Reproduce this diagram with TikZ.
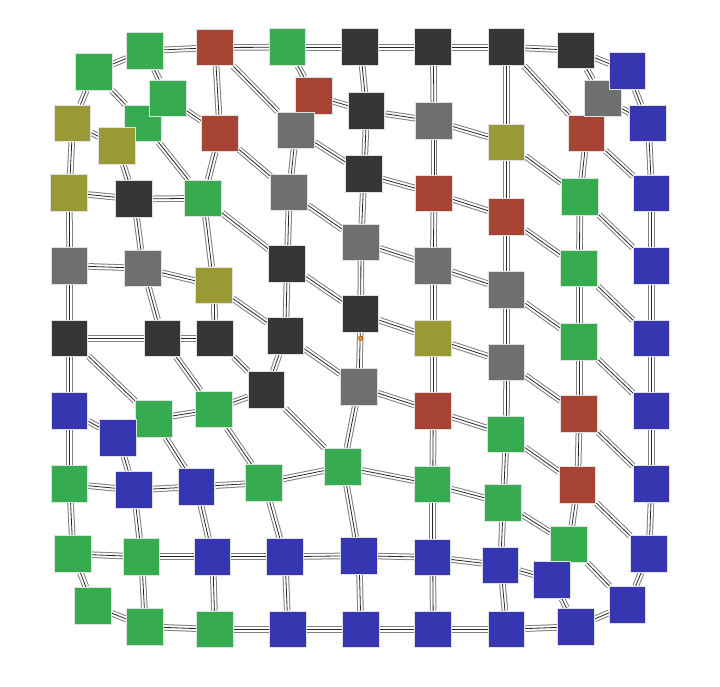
\documentclass[tikz,border=0pt]{standalone}
\usetikzlibrary{backgrounds}

\definecolor{cgreen}{RGB}{55,171,80}
\definecolor{cred}{RGB}{168,68,54}
\definecolor{cdark}{RGB}{53,55,54}
\definecolor{cgray}{RGB}{110,112,110}
\definecolor{colive}{RGB}{153,154,54}
\definecolor{cblue}{RGB}{54,54,176}

\tikzset{
  box/.style={draw=black!12, line width=0.5pt, minimum size=18.3pt, inner sep=0pt},
  grn/.style={box, fill=cgreen},
  red/.style={box, fill=cred},
  drk/.style={box, fill=cdark},
  gry/.style={box, fill=cgray},
  olv/.style={box, fill=colive},
  blu/.style={box, fill=cblue},
  link/.style={draw=black!50, line width=0.5pt, double=white, double distance=2.3pt},
  core/.style={draw=black!85, line width=0.4pt},
}

\begin{document}
\begin{tikzpicture}[x=0.5pt, y=-0.5pt]
    \useasboundingbox (0,0) rectangle (720,687);

    % Row a
    \node[grn] (a0) at (94,71.7) {};
    \node[grn] (a1) at (145.3,50.7) {};
    \node[red] (a2) at (215,47.5) {};
    \node[grn] (a3) at (287.7,47.2) {};
    \node[drk] (a4) at (360.3,47.2) {};
    \node[drk] (a5) at (433.3,47.2) {};
    \node[drk] (a6) at (506.7,47.2) {};
    \node[drk] (a7) at (576,50.3) {};

    % Row b
    \node[olv] (b0) at (72.7,123.3) {};
    \node[grn] (b1) at (143.3,123.3) {};
    \node[grn] (b1x) at (168.3,98.3) {};
    \node[olv] (b1y) at (117.3,146) {};
    \node[red] (b2) at (220,133.3) {};
    \node[red] (b3x) at (314.3,96) {};
    \node[gry] (b3) at (296,130.3) {};
    \node[drk] (b4) at (366.7,111) {};
    \node[gry] (b5) at (434,121) {};
    \node[olv] (b6) at (506.7,142.3) {};
    \node[red] (b7) at (586.7,133.3) {};
    \node[gry] (b7x) at (603.3,98.3) {};
    \node[blu] (a8) at (627.7,71) {};
    \node[blu] (b8) at (648.3,123.3) {};

    % Row c
    \node[olv] (c0) at (69.3,192.7) {};
    \node[drk] (c1) at (134.2,199) {};
    \node[grn] (c2) at (203.3,198.3) {};
    \node[gry] (c3) at (289.3,192.3) {};
    \node[drk] (c4) at (364,174) {};
    \node[red] (c5) at (434,193.3) {};
    \node[red] (c6) at (506.7,216.7) {};
    \node[grn] (c7) at (580,196.7) {};
    \node[blu] (c8) at (651.7,193.3) {};

    % Row d
    \node[gry] (d0) at (69.7,265.7) {};
    \node[gry] (d1) at (143.3,268.3) {};
    \node[olv] (d2) at (214,285.3) {};
    \node[drk] (d3) at (287.3,263.7) {};
    \node[gry] (d4) at (361,242.3) {};
    \node[gry] (d5) at (433.3,265.7) {};
    \node[gry] (d6) at (506.7,290) {};
    \node[grn] (d7) at (579.3,268.3) {};
    \node[blu] (d8) at (651.7,265.7) {};

    % Row e
    \node[drk] (e0) at (69.7,338.3) {};
    \node[drk] (e1) at (162.7,338.3) {};
    \node[drk] (e2) at (215,338.3) {};
    \node[drk] (e3) at (285.7,335.7) {};
    \node[drk] (e4) at (360.7,314) {};
    \node[olv] (e5) at (433.3,338.3) {};
    \node[gry] (e6) at (506.7,362.3) {};
    \node[grn] (e7) at (579.3,341.7) {};
    \node[blu] (e8) at (651.7,338.3) {};

    % Row f
    \node[blu] (f0) at (69.7,411) {};
    \node[grn] (f1) at (154,419) {};
    \node[blu] (f0x) at (118.3,437.7) {};
    \node[grn] (f2) at (214,409.3) {};
    \node[drk] (f3) at (266.7,390) {};
    \node[gry] (f4) at (359,387) {};
    \node[red] (f5) at (433.3,411) {};
    \node[grn] (f6) at (506.3,434.3) {};
    \node[red] (f7) at (579.3,414) {};
    \node[blu] (f8) at (651.7,411) {};

    % Row g
    \node[grn] (g0) at (69.7,484) {};
    \node[blu] (g1) at (134,490) {};
    \node[blu] (g2) at (196.7,486.7) {};
    \node[grn] (g3) at (264.3,482.7) {};
    \node[grn] (g4) at (343.3,466.7) {};
    \node[grn] (g5) at (432.7,484.3) {};
    \node[grn] (g6) at (503.3,502.7) {};
    \node[red] (g7) at (577.7,485) {};
    \node[blu] (g8) at (651.7,484) {};

    % Row h
    \node[grn] (h0) at (73,554) {};
    \node[grn] (h1) at (141.7,556.7) {};
    \node[blu] (h2) at (212.7,556.7) {};
    \node[blu] (h3) at (285,556.7) {};
    \node[blu] (h4) at (359,555.7) {};
    \node[blu] (h5) at (432.7,557.3) {};
    \node[blu] (h6) at (500.7,565.3) {};
    \node[grn] (h7) at (569.3,544.3) {};
    \node[blu] (h7x) at (552.3,580) {};
    \node[blu] (h8) at (649,554) {};

    % Row i
    \node[grn] (i0) at (93.3,605.7) {};
    \node[grn] (i1) at (145.3,626.7) {};
    \node[grn] (i2) at (215,629.3) {};
    \node[blu] (i3) at (288,629.3) {};
    \node[blu] (i4) at (361,629.3) {};
    \node[blu] (i5) at (433.3,629.3) {};
    \node[blu] (i6) at (506.7,629.3) {};
    \node[blu] (i7) at (576,626.7) {};
    \node[blu] (i8) at (627.7,605) {};

    % Marker on the e4--f4 link
    \node[circle, fill=orange!85, draw=orange!60!black, line width=0.3pt, inner sep=0pt, minimum size=2.2pt] (dot) at (360.7,338.3) {};

    % Links
    \begin{scope}[on background layer]
    \foreach \a/\b in {a0/a1, a1/a2, a2/a3, a3/a4, a4/a5, a5/a6, a6/a7, a7/a8,
        a0/b0, a0/b1, a1/b1x, a2/b2, a2/b3, a3/b3x, a4/b4, a5/b5, a6/b6, a6/b7, a7/b7x, a8/b8,
        b0/b1y, b0/c0, b1x/b2, b1/c2, b1y/c1, b2/c2, b2/c3, b3x/b4, b3/c3, b3/c4,
        b4/b5, b4/c4, b5/b6, b5/c5, b6/c6, b6/c7, b7x/b8, b7/c7, b7/c8, b8/c8,
        c0/c1, c1/c2, c0/d0, c1/d1, c2/d2, c2/d3, c3/d3, c3/d4, c4/c5, c4/d4,
        c5/c6, c5/d5, c6/d6, c6/d7, c7/d7, c7/d8, c8/d8,
        d0/d1, d1/d2, d0/e0, d1/e1, d2/e2, d2/e3, d3/e3, d3/e4, d4/d5, d4/e4,
        d5/d6, d5/e5, d6/e6, d6/e7, d7/e7, d7/e8, d8/e8,
        e0/e1, e1/e2, e0/f0, e0/f1, e1/f2, e2/f3, e3/f3, e3/f4, e4/e5, e4/f4,
        e5/e6, e5/f5, e6/f6, e6/f7, e7/f7, e7/f8, e8/f8,
        f0/f0x, f0/g0, f0x/g1, f1/f2, f1/g2, f2/f3, f2/g3, f3/g4, f4/f5, f4/g4,
        f5/f6, f5/g5, f6/g6, f6/g7, f7/g7, f7/g8, f8/g8,
        g0/g1, g1/g2, g2/g3, g3/g4, g4/g5, g5/g6, g6/h7, g7/h7, g7/h8, g8/h8,
        g0/h0, g1/h1, g2/h2, g3/h3, g4/h4, g5/h5, g6/h6,
        h0/h1, h1/h2, h2/h3, h3/h4, h4/h5, h5/h6, h6/h7x, h7/i8, h8/i8,
        h0/i0, h1/i1, h2/i2, h3/i3, h4/i4, h5/i5, h6/i6, h7x/i7,
        i0/i1, i1/i2, i2/i3, i3/i4, i4/i5, i5/i6, i6/i7, i7/i8} {
        \draw[link] (\a) -- (\b);
        \draw[core] (\a) -- (\b);
    }
    \end{scope}
\end{tikzpicture}
\end{document}
